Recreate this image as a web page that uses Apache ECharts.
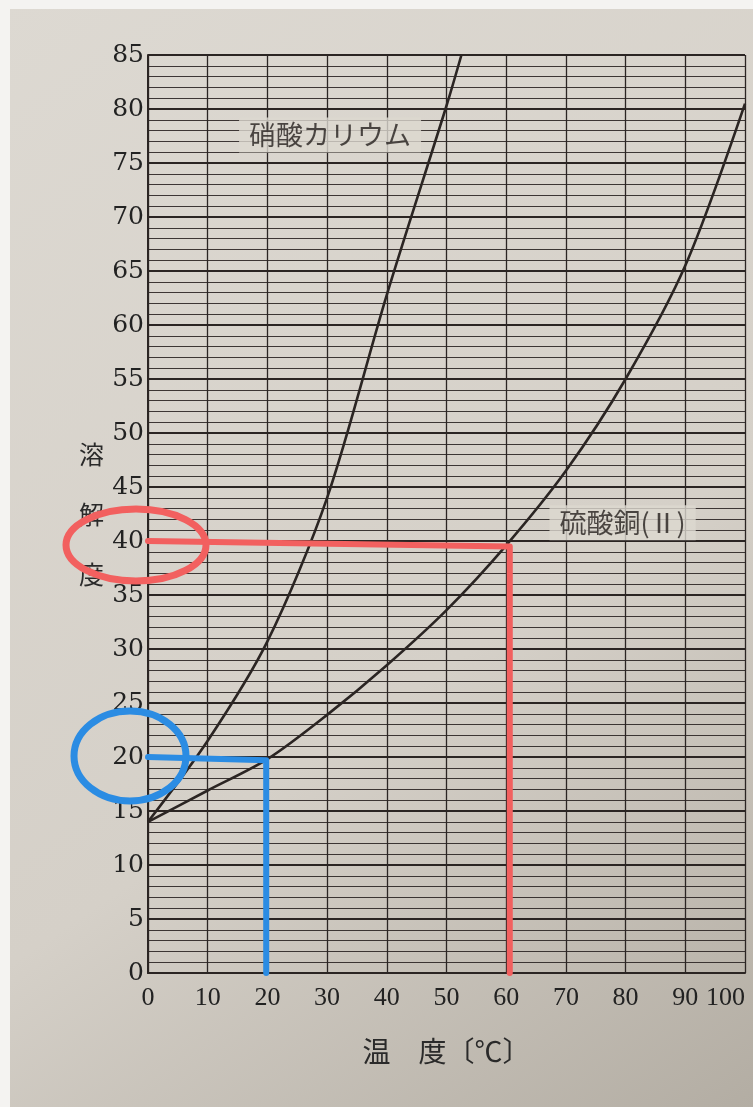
<!DOCTYPE html>
<html>
<head>
<meta charset="utf-8">
<script src="https://cdn.jsdelivr.net/npm/echarts@6/dist/echarts.min.js"></script>
<style>
  html, body { margin: 0; padding: 0; background: #d9d4cc; }
  #chart { width: 753px; height: 1107px; }
</style>
</head>
<body>
<div id="chart"></div>
<script>
// 硝酸カリウム
const kno3Temps = [0, 10, 20, 30, 40, 50, 52.5];
const kno3Values = [14, 21.5, 30.7, 44, 62.8, 80.3, 85];
// 硫酸銅(Ⅱ)
const cuso4Temps = [0, 10, 20, 30, 40, 50, 60, 70, 80, 90, 100];
const cuso4Values = [14, 16.9, 19.8, 23.9, 28.5, 33.6, 39.6, 46.5, 55, 65.5, 80.5];
// 手書きの補助線
const redGuide = [[0, 40], [60.6, 39.5], [60.6, 0]];
const blueGuide = [[0, 20], [19.8, 19.7], [19.8, 0]];
// ラベル位置
const kno3Label = [30.5, 77.6];
const cuso4Label = [79.5, 41.7];

const ink = '#2b2523';
const paper = '#dcd8d0';
const numFont = '"DejaVu Serif", "Liberation Serif", serif';
const xNumFont = '"Liberation Serif", serif';
const jpFont = '"Noto Sans CJK JP", sans-serif';

function pairs(xs, ys) {
  return xs.map((x, i) => [x, ys[i]]);
}

const chart = echarts.init(document.getElementById('chart'));

const option = {
  backgroundColor: new echarts.graphic.LinearGradient(0, 0, 1, 1, [
    { offset: 0, color: '#ddd9d2' },
    { offset: 0.6, color: '#d5d0c8' },
    { offset: 1, color: '#b3ada3' }
  ]),
  animation: false,
  grid: { left: 148, right: 8, top: 55, bottom: 134, outerBoundsMode: 'none' },
  xAxis: {
    type: 'value',
    min: 0,
    max: 100,
    interval: 10,
    name: '温　度〔℃〕',
    nameLocation: 'middle',
    nameGap: 64,
    nameTextStyle: { fontFamily: jpFont, fontSize: 28, color: '#2a2a2a' },
    axisLine: { lineStyle: { color: ink, width: 2 } },
    axisTick: { show: false },
    axisLabel: { fontFamily: xNumFont, fontSize: 26, color: '#222', margin: 12, alignMaxLabel: 'right' },
    splitLine: { show: true, lineStyle: { color: ink, width: 1.3 } }
  },
  yAxis: {
    type: 'value',
    min: 0,
    max: 85,
    interval: 5,
    name: '溶\n\n解\n\n度',
    nameLocation: 'middle',
    nameRotate: 0,
    nameGap: 44,
    nameTextStyle: { fontFamily: jpFont, fontSize: 25, color: '#2a2a2a', lineHeight: 30 },
    axisLine: { show: true, lineStyle: { color: ink, width: 2 } },
    axisTick: { show: false },
    axisLabel: { fontFamily: numFont, fontSize: 25, color: '#222', margin: 4 },
    splitLine: { show: true, lineStyle: { color: ink, width: 2.2 } },
    minorTick: { show: false, splitNumber: 5 },
    minorSplitLine: { show: true, lineStyle: { color: ink, width: 1.2, opacity: 0.9 } }
  },
  series: [
    {
      name: '硝酸カリウム',
      type: 'line',
      smooth: 0.3,
      showSymbol: false,
      lineStyle: { color: ink, width: 2.6 },
      data: pairs(kno3Temps, kno3Values),
      z: 3
    },
    {
      name: '硫酸銅(Ⅱ)',
      type: 'line',
      smooth: 0.3,
      showSymbol: false,
      lineStyle: { color: ink, width: 2.6 },
      data: pairs(cuso4Temps, cuso4Values),
      z: 3
    },
    {
      type: 'scatter',
      symbolSize: 0,
      silent: true,
      z: 4,
      data: [
        { value: kno3Label, name: '硝酸カリウム' },
        { value: cuso4Label, name: '硫酸銅(Ⅱ)' }
      ],
      label: {
        show: true,
        position: 'inside',
        formatter: p => p.name,
        fontFamily: jpFont,
        fontSize: 27,
        color: '#241f1d',
        backgroundColor: paper,
        padding: [4, 10]
      }
    },
    {
      type: 'line',
      showSymbol: false,
      silent: true,
      z: 5,
      lineStyle: { color: '#f2605f', width: 6, cap: 'round', join: 'round' },
      data: redGuide
    },
    {
      type: 'line',
      showSymbol: false,
      silent: true,
      z: 5,
      lineStyle: { color: '#2b8ce3', width: 6, cap: 'round', join: 'round' },
      data: blueGuide
    }
  ]
};

chart.setOption(option);

// 目盛りを囲む手書きの丸
const red = chart.convertToPixel({ gridIndex: 0 }, [0, 40]);
const blue = chart.convertToPixel({ gridIndex: 0 }, [0, 20]);
chart.setOption({
  graphic: [
    {
      type: 'rect',
      shape: { x: 0, y: 0, width: 753, height: 9 },
      style: { fill: '#f4f3f1' },
      z: 1
    },
    {
      type: 'rect',
      shape: { x: 0, y: 0, width: 10, height: 1107 },
      style: { fill: '#f4f3f1' },
      z: 1
    },
    {
      type: 'ellipse',
      shape: { cx: red[0] - 12, cy: red[1] + 4, rx: 70, ry: 36 },
      style: { fill: 'none', stroke: '#f2605f', lineWidth: 7 },
      z: 10
    },
    {
      type: 'ellipse',
      shape: { cx: blue[0] - 18, cy: blue[1] - 1, rx: 56, ry: 45 },
      style: { fill: 'none', stroke: '#2b8ce3', lineWidth: 7 },
      z: 10
    }
  ]
});
</script>
</body>
</html>
